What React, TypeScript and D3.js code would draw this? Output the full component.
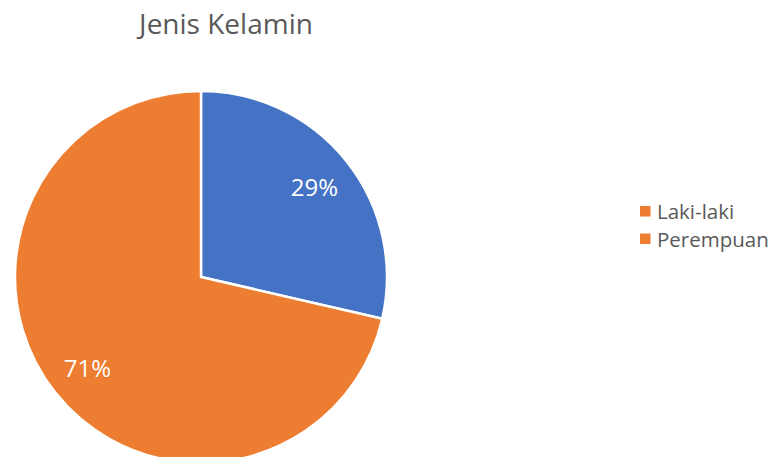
import React from "react";
import * as d3 from "d3";

const categories = ["Laki-laki", "Perempuan"];
const values = [28.6, 71.4];
const labels = ["29%", "71%"];
const sliceColors = ["#4472C4", "#ED7D31"];
const legendColors = ["#ED7D31", "#ED7D31"];
const title = "Jenis Kelamin";

export default function App() {
  const W = 781, H = 457;
  const cx = 201, cy = 277, r = 186;
  const pie = d3.pie<number>().sort(null).value((d) => d)(values);
  const arc = d3.arc<d3.PieArcDatum<number>>().innerRadius(0).outerRadius(r);
  const labelArc = d3.arc<d3.PieArcDatum<number>>().innerRadius(r * 0.78).outerRadius(r * 0.78);
  const font = "Open Sans, Calibri, sans-serif";
  return (
    <svg width={W} height={H} style={{ position: "absolute", left: 0, top: 0, background: "#fff" }}>
      <text x={226} y={34} textAnchor="middle" fontFamily={font} fontSize={28} fill="#595959">{title}</text>
      <g transform={`translate(${cx},${cy})`}>
        {pie.map((p, i) => (
          <path key={i} d={arc(p) || ""} fill={sliceColors[i]} stroke="#fff" strokeWidth={2.5} />
        ))}
        {pie.map((p, i) => {
          const [x, y] = labelArc.centroid(p);
          return (
            <text key={"l" + i} x={x} y={y} textAnchor="middle" dominantBaseline="central" fontFamily={font} fontSize={24} fill="#fff">{labels[i]}</text>
          );
        })}
      </g>
      {categories.map((c, i) => (
        <g key={c} transform={`translate(640,${211 + i * 27.5})`}>
          <rect x={0} y={-5} width={10.5} height={10.5} fill={legendColors[i]} />
          <text x={17} y={0} dominantBaseline="central" fontFamily={font} fontSize={20.5} fill="#595959">{c}</text>
        </g>
      ))}
    </svg>
  );
}
